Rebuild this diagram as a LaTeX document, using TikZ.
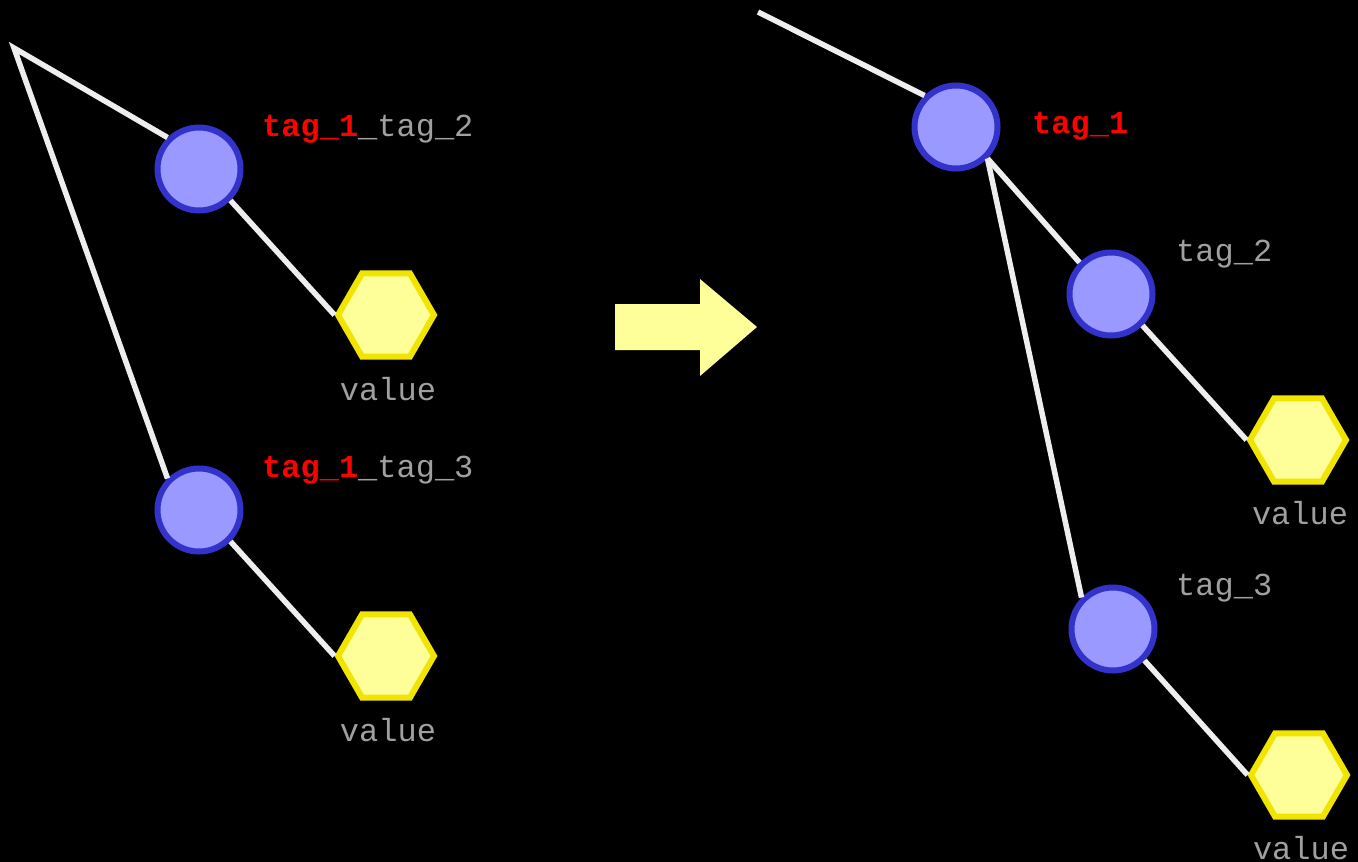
\documentclass[tikz,border=0pt]{standalone}
\usepackage{fontspec}
\setmonofont{Liberation Mono}
\usetikzlibrary{shapes.geometric}
\definecolor{cfill}{HTML}{9999FF}
\definecolor{cborder}{HTML}{3333CC}
\definecolor{hfill}{HTML}{FFFF99}
\definecolor{hborder}{HTML}{F0E400}
\definecolor{edge}{HTML}{EEEEEE}
\definecolor{txt}{HTML}{A0A0A0}
\definecolor{tagred}{HTML}{FF0000}
\tikzset{
  tagnode/.style={circle, fill=cfill, draw=cborder, line width=6pt, minimum size=83pt, inner sep=0pt},
  valnode/.style={regular polygon, regular polygon sides=6, fill=hfill, draw=hborder, line width=6pt, minimum size=96pt, inner sep=0pt},
  link/.style={draw=edge, line width=5.5pt},
  lbl/.style={text=txt, font=\ttfamily\fontsize{32}{38}\selectfont, inner sep=0pt},
}
\begin{document}
\begin{tikzpicture}[x=1pt,y=-1pt]
\fill[black] (0,0) rectangle (1358,862);
\useasboundingbox (0,0) rectangle (1358,862);
% left tree
\coordinate (apex) at (14,48);
\node[tagnode] (A) at (199,169) {};
\node[tagnode] (B) at (199,510) {};
\node[valnode] (H1) at (386,315) {};
\node[valnode] (H2) at (386,656) {};
\draw[link, line join=miter] (A.north west) -- (apex) -- (B.north west);
\draw[link] (A.south east) -- (H1.west);
\draw[link] (B.south east) -- (H2.west);
\node[lbl, anchor=base west] (LA) at (262,136) {\textcolor{tagred}{\bfseries tag\_1}\_tag\_2};
\node[lbl, anchor=base west] (LB) at (262,477) {\textcolor{tagred}{\bfseries tag\_1}\_tag\_3};
\node[lbl] (V1) at (388,389) {value};
\node[lbl] (V2) at (388,730) {value};
% arrow
\fill[hfill] (615,304) -- (700,304) -- (700,279) -- (757,327) -- (700,376) -- (700,350) -- (615,350) -- cycle;
% right tree
\coordinate (top) at (758,12);
\node[tagnode] (C) at (956,127) {};
\node[tagnode] (D) at (1111,294) {};
\node[tagnode] (E) at (1113,629) {};
\node[valnode] (H3) at (1298,440) {};
\node[valnode] (H4) at (1299,775) {};
\draw[link] (top) -- (C.north west);
\draw[link] (C.south east) -- (D.north west);
\draw[link] (C.south east) -- (E.north west);
\draw[link] (D.south east) -- (H3.west);
\draw[link] (E.south east) -- (H4.west);
\node[lbl, anchor=base west, text=tagred, font=\ttfamily\bfseries\fontsize{32}{38}\selectfont] (LC) at (1032,133) {tag\_1};
\node[lbl, anchor=base west] (LD) at (1176,261) {tag\_2};
\node[lbl, anchor=base west] (LE) at (1176,595) {tag\_3};
\node[lbl] (V3) at (1300,513) {value};
\node[lbl] (V4) at (1301,848) {value};
\end{tikzpicture}
\end{document}
